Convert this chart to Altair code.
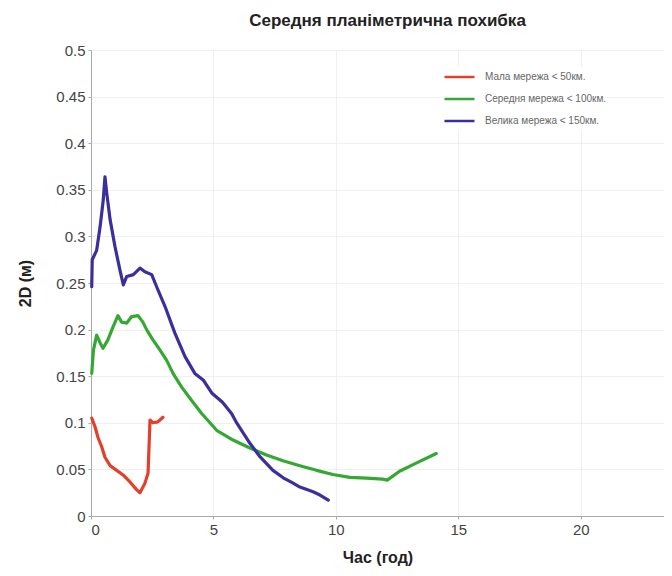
import altair as alt
import pandas as pd

series_names = ["Мала мережа < 50км.", "Середня мережа < 100км.", "Велика мережа < 150км."]
series_colors = ["#e3402c", "#35a834", "#3b2f9c"]

small_x = [0.03, 0.16, 0.29, 0.44, 0.57, 0.78, 1.05, 1.31, 1.59, 1.87, 2.0, 2.2, 2.33, 2.41, 2.53, 2.73, 2.94]
small_y = [0.105, 0.096, 0.084, 0.074, 0.063, 0.054, 0.049, 0.044, 0.0365, 0.028, 0.025, 0.035, 0.046, 0.103, 0.100, 0.101, 0.106]

mid_x = [0.03, 0.1, 0.23, 0.37, 0.49, 0.69, 0.9, 1.1, 1.25, 1.46, 1.66, 1.92, 2.12, 2.27, 2.53, 2.82, 3.09, 3.35,
         3.71, 4.11, 4.52, 5.13, 5.8, 6.49, 7.17, 7.84, 8.53, 9.21, 9.88, 10.57, 11.25, 11.9, 12.1, 12.6, 13.3, 14.1]
mid_y = [0.153, 0.178, 0.194, 0.186, 0.180, 0.189, 0.203, 0.215, 0.208, 0.207, 0.214, 0.215, 0.208, 0.200, 0.189,
         0.178, 0.167, 0.153, 0.138, 0.124, 0.110, 0.092, 0.0815, 0.073, 0.0655, 0.0593, 0.054, 0.049, 0.0445,
         0.0415, 0.0407, 0.0395, 0.0385, 0.048, 0.057, 0.067]

large_x = [0.03, 0.05, 0.23, 0.37, 0.5, 0.57, 0.64, 0.78, 0.98, 1.18, 1.32, 1.46, 1.73, 2.0, 2.2, 2.48, 2.68,
           3.02, 3.43, 3.84, 4.24, 4.58, 4.93, 5.37, 5.74, 5.95, 6.49, 6.9, 7.43, 7.85, 8.2, 8.53, 9.07, 9.35, 9.69]
large_y = [0.246, 0.275, 0.285, 0.310, 0.339, 0.364, 0.347, 0.318, 0.289, 0.264, 0.248, 0.257, 0.259, 0.266,
           0.262, 0.259, 0.246, 0.225, 0.196, 0.171, 0.153, 0.146, 0.132, 0.122, 0.110, 0.0998, 0.078, 0.0636,
           0.049, 0.041, 0.036, 0.031, 0.026, 0.0225, 0.017]

x_ticks = [0, 5, 10, 15, 20]
y_ticks = [0, 0.05, 0.1, 0.15, 0.2, 0.25, 0.3, 0.35, 0.4, 0.45, 0.5]

rows = []
for name, xs, ys in zip(series_names, [small_x, mid_x, large_x], [small_y, mid_y, large_y]):
    for i, (a, b) in enumerate(zip(xs, ys)):
        rows.append({"series": name, "t": a, "v": b, "order": i})
df = pd.DataFrame(rows)

FONT = "Liberation Sans"

chart = alt.Chart(df).mark_line(strokeWidth=3.2, strokeJoin="round", strokeCap="round").encode(
    x=alt.X("t:Q", title="Час (год)",
            scale=alt.Scale(domain=[0, 23.4], nice=False, zero=False),
            axis=alt.Axis(values=x_ticks, format="~g")),
    y=alt.Y("v:Q", title="2D (м)",
            scale=alt.Scale(domain=[0, 0.5], nice=False),
            axis=alt.Axis(values=y_ticks, format="~g")),
    color=alt.Color("series:N",
                    scale=alt.Scale(domain=series_names, range=series_colors),
                    sort=series_names,
                    legend=alt.Legend(title=None, orient="none", legendX=352, legendY=17,
                                      symbolType="stroke", symbolSize=900, symbolStrokeWidth=2.5,
                                      clipHeight=20, rowPadding=2, labelFontSize=10,
                                      labelColor="#666666", labelFont=FONT, labelOffset=9,
                                      fillColor="white")),
    order="order:Q",
).properties(
    width=573,
    height=466,
    autosize=alt.AutoSizeParams(type="none"),
    padding={"left": 83, "top": 42, "right": 0, "bottom": 52},
    title=alt.TitleParams("Середня планіметрична похибка", font=FONT, fontSize=17,
                          fontWeight="bold", color="#222222", anchor="middle", offset=13, dx=10),
).configure_axis(
    labelFont=FONT, labelFontSize=15, labelColor="#444444",
    titleFont=FONT, titleFontSize=16, titleFontWeight="bold", titleColor="#222222",
    domainColor="#aaaaaa", tickColor="#aaaaaa", tickSize=3,
    gridColor="#f0f0f0", labelPadding=3,
).configure_axisY(
    titlePadding=22,
).configure_axisX(
    titlePadding=12,
).configure_view(
    stroke=None,
)

chart.save("out.html", embed_options={"renderer": "svg", "actions": False})
